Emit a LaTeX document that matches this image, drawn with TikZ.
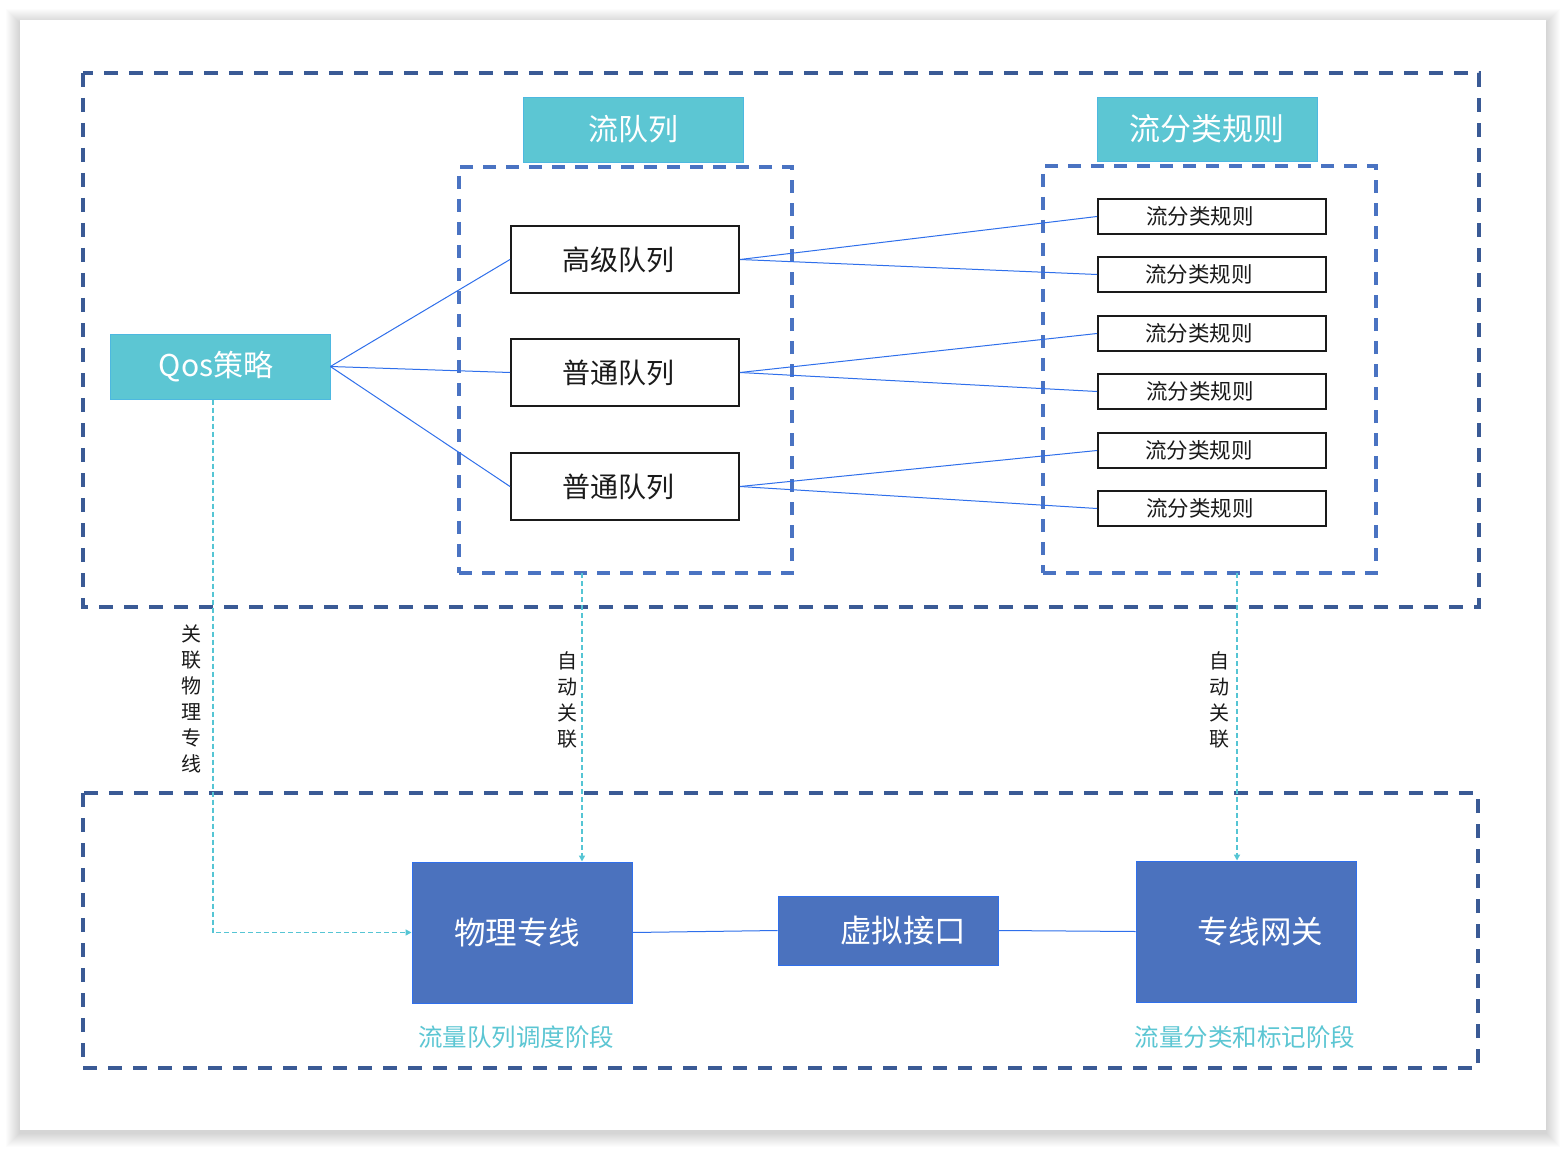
\documentclass[tikz,border=0pt]{standalone}
\usepackage{fontspec}
\newfontfamily\cjk{Noto Sans CJK SC}
\usetikzlibrary{arrows.meta}
\definecolor{outerdash}{HTML}{3A5A95}
\definecolor{innerdash}{HTML}{4A73C2}
\definecolor{cyanfill}{HTML}{5CC6D3}
\definecolor{cyanedge}{HTML}{4DB8E0}
\definecolor{thinblue}{HTML}{2F6FEB}
\definecolor{boxblue}{HTML}{4B72BE}
\definecolor{boxedge}{HTML}{2F6FEB}
\definecolor{cyanline}{HTML}{55C5D4}
\definecolor{txt}{HTML}{1A1A1A}
\begin{document}
\begin{tikzpicture}[x=1pt,y=-1pt,
  outerd/.style={draw=outerdash,line width=3.5pt,dash pattern=on 14pt off 11pt},
  innerbox/.style={draw=innerdash,line width=3.5pt,dash pattern=on 13pt off 10pt,inner sep=0pt},
  header/.style={fill=cyanfill,draw=cyanedge,line width=0.8pt,text=white,inner sep=0pt,minimum width=220pt,font=\cjk\fontsize{30}{36}\selectfont},
  qbox/.style={draw=txt,line width=2pt,fill=white,minimum width=228pt,minimum height=67pt,inner sep=0pt,text=txt,font=\cjk\fontsize{28}{32}\selectfont},
  rbox/.style={draw=txt,line width=2pt,fill=white,minimum width=228pt,minimum height=35pt,inner sep=0pt,text=txt,font=\cjk\fontsize{21.5}{24}\selectfont},
  bbox/.style={draw=boxedge,line width=1pt,fill=boxblue,minimum width=220pt,inner sep=0pt,text=white,font=\cjk\fontsize{31.5}{38}\selectfont},
  link/.style={draw=thinblue,line width=1pt},
  assoc/.style={draw=cyanline,line width=1.5pt,dash pattern=on 5pt off 3pt,-{Triangle[length=6pt,width=6pt]}},
  vlabel/.style={text=txt,align=center,inner sep=0pt,font=\cjk\fontsize{20}{26}\selectfont},
  stage/.style={text=cyanfill,inner sep=0pt,font=\cjk\fontsize{24.5}{28}\selectfont}
]
\useasboundingbox (0,0) rectangle (1566,1150);
\fill[white] (0,0) rectangle (1566,1150);
\foreach \i in {1,...,14}{
  \fill[black,opacity=0.011] (20-\i,20-\i+3) rectangle (1546+\i,1130+\i+3);
}
\fill[white] (20,20) rectangle (1546,1130);

% outer dashed areas
\draw[outerd] (83,73) rectangle (1479,607);
\draw[outerd] (83,793) rectangle (1478,1068);

% inner dashed areas
\node[innerbox,minimum width=333pt,minimum height=406pt] (qarea) at (625.5,370) {};
\node[innerbox,minimum width=333pt,minimum height=407pt] (rarea) at (1209.5,369.5) {};

% headers
\node[header,minimum height=65pt] (h1) at (633,129.5) {流队列};
\node[header,minimum height=64pt,font=\cjk\fontsize{31}{36}\selectfont] (h2) at (1207,129) {流分类规则};
\node[header,minimum height=65pt] (qos) at (220,366.5) {\hspace*{-8pt}Qos策略};

% queues
\node[qbox] (q1) at (625,259.5) {\hspace*{-14pt}高级队列};
\node[qbox] (q2) at (625,372.5) {\hspace*{-14pt}普通队列};
\node[qbox] (q3) at (625,486.5) {\hspace*{-14pt}普通队列};

% rules
\node[rbox] (r1) at (1212,216.5) {\hspace*{-24pt}流分类规则};
\node[rbox] (r2) at (1212,274.5) {\hspace*{-26pt}流分类规则};
\node[rbox] (r3) at (1212,333.5) {\hspace*{-26pt}流分类规则};
\node[rbox] (r4) at (1212,391.5) {\hspace*{-24pt}流分类规则};
\node[rbox] (r5) at (1212,450.5) {\hspace*{-26pt}流分类规则};
\node[rbox] (r6) at (1212,508.5) {\hspace*{-24pt}流分类规则};

% links
\draw[link] (qos.east) -- (q1.west);
\draw[link] (qos.east) -- (q2.west);
\draw[link] (qos.east) -- (q3.west);
\draw[link] (q1.east) -- (r1.west);
\draw[link] (q1.east) -- (r2.west);
\draw[link] (q2.east) -- (r3.west);
\draw[link] (q2.east) -- (r4.west);
\draw[link] (q3.east) -- (r5.west);
\draw[link] (q3.east) -- (r6.west);

% bottom boxes
\node[bbox,minimum height=141pt] (phy) at (522,932.5) {\hspace*{-10pt}物理专线};
\node[bbox,minimum height=69pt] (vi) at (888,930.5) {\hspace*{30pt}虚拟接口};
\node[bbox,minimum height=141pt] (gw) at (1246,931.5) {\hspace*{28pt}专线网关};
\draw[link] (phy.east) -- (vi.west);
\draw[link] (vi.east) -- (gw.west);

\node[stage] (s1) at (516,1037) {流量队列调度阶段};
\node[stage] (s2) at (1245,1037) {流量分类和标记阶段};

% association connectors
\coordinate (c0) at (213,399.5);
\coordinate (c1) at (582,573);
\coordinate (c2) at (1237,573);
\draw[assoc] (c0) |- (phy.west);
\draw[assoc] (c1) -- (c1 |- phy.north);
\draw[assoc] (c2) -- (c2 |- gw.north);

\node[vlabel] (l0) at (191,699) {关\\联\\物\\理\\专\\线};
\node[vlabel] (l1) at (567,700) {自\\动\\关\\联};
\node[vlabel] (l2) at (1219,700) {自\\动\\关\\联};
\end{tikzpicture}
\end{document}
